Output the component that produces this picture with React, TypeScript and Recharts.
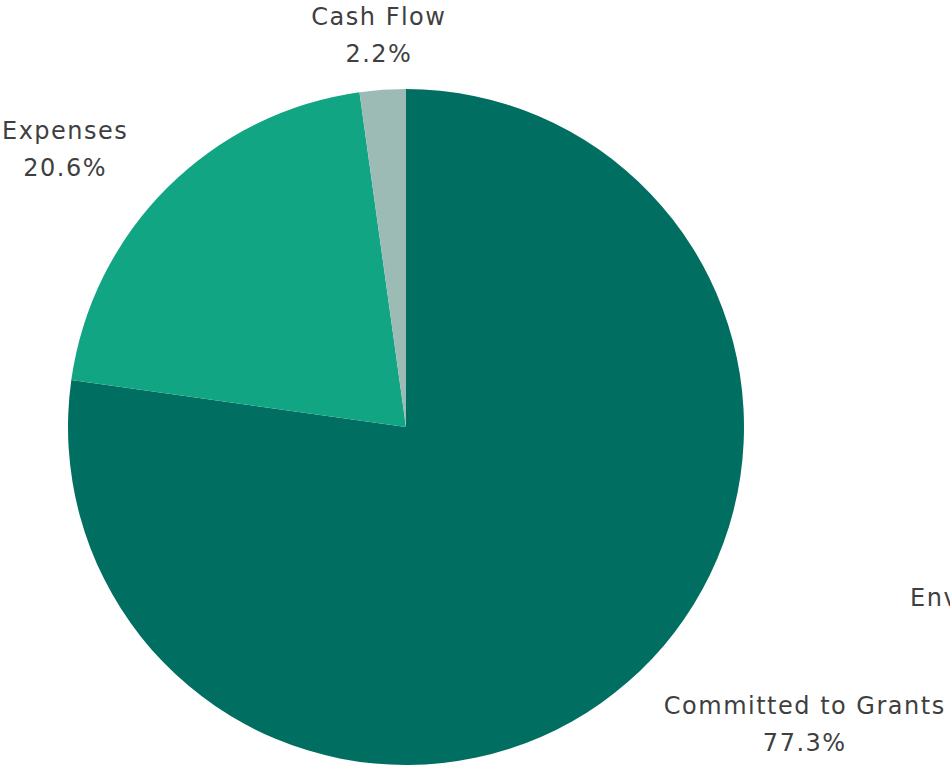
import React from 'react';
import { PieChart, Pie, Cell } from 'recharts';

const categories = ['Committed to Grants', 'Expenses', 'Cash Flow'];
const shares = [77.3, 20.6, 2.2];
const colors = ['#006f61', '#12a584', '#9dbbb5'];

const data = categories.map((name, i) => ({ name, value: shares[i] }));

const FONT_SIZE = 24;
const SPACING = 1.5;
const FONT = `${FONT_SIZE}px "DejaVu Sans"`;
const RAD = Math.PI / 180;

let ctx: CanvasRenderingContext2D | null = null;
function textWidth(s: string) {
  if (!ctx) ctx = document.createElement('canvas').getContext('2d');
  if (!ctx) return s.length * 14;
  ctx.font = FONT;
  return ctx.measureText(s).width + s.length * SPACING;
}

const labelStyle = {
  fontFamily: '"DejaVu Sans"',
  fontSize: FONT_SIZE,
  letterSpacing: SPACING,
};

function renderLabel(props: any) {
  const { cx, cy, midAngle, outerRadius, name, value } = props;
  const r = outerRadius + 55;
  const cos = Math.cos(-midAngle * RAD);
  const sin = Math.sin(-midAngle * RAD);
  const x = cx + r * cos;
  const y = cy + r * sin;
  const line2 = `${value}%`;
  const w = Math.max(textWidth(name), textWidth(line2));
  let mid = x;
  if (cos > 0.2) mid = x + w / 2;
  else if (cos < -0.2) mid = x - w / 2;
  return (
    <text x={mid} y={y} textAnchor="middle" fill="#3f3f3f" style={labelStyle}>
      <tspan x={mid} dy={-10}>{name}</tspan>
      <tspan x={mid} dy={37}>{line2}</tspan>
    </text>
  );
}

export default function App() {
  return (
    <div style={{ position: 'absolute', left: 0, top: 0, width: 950, height: 766, background: '#fff' }}>
      <PieChart width={950} height={766} margin={{ top: 0, right: 0, bottom: 0, left: 0 }}>
        <Pie
          data={data}
          dataKey="value"
          nameKey="name"
          cx={406}
          cy={427}
          outerRadius={338}
          startAngle={90}
          endAngle={-270}
          stroke="none"
          label={renderLabel}
          labelLine={false}
          isAnimationActive={false}
        >
          {data.map((d, i) => (
            <Cell key={d.name} fill={colors[i]} />
          ))}
        </Pie>
        <text x={910} y={606} fill="#3f3f3f" style={labelStyle}>
          Environment
        </text>
      </PieChart>
    </div>
  );
}
